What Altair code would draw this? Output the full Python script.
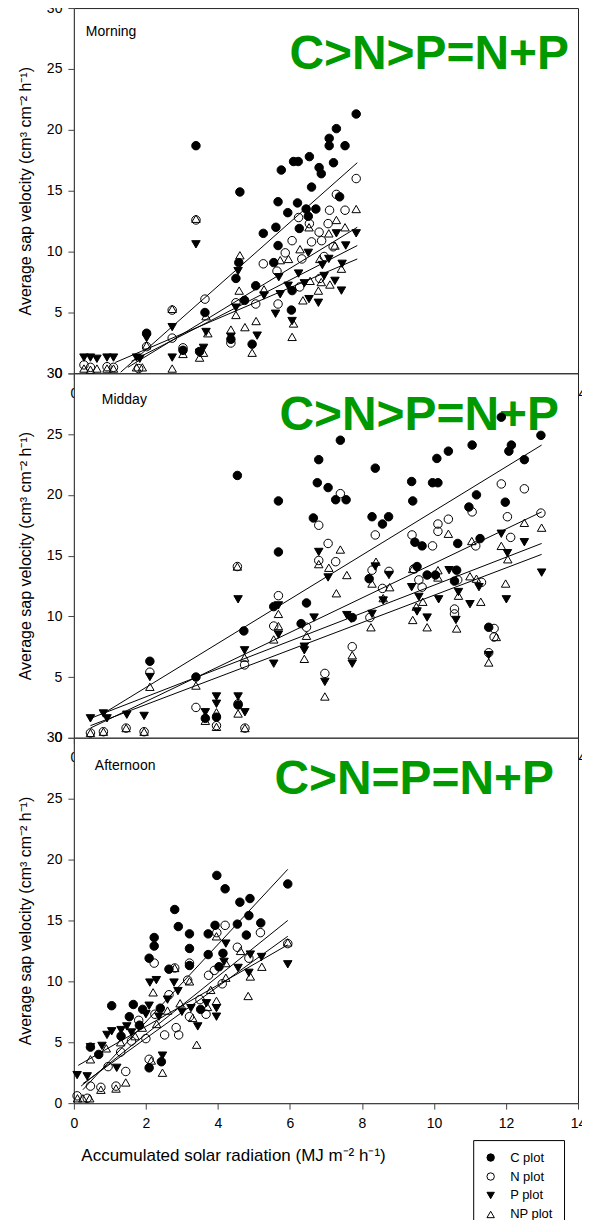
import altair as alt
import pandas as pd

SERIES = ["C plot", "N plot", "P plot", "NP plot"]
SHAPES = ["circle", "circle", "triangle-down", "triangle-up"]
FILLS = ["black", "transparent", "black", "transparent"]

PANEL_NAMES = ["Morning", "Midday", "Afternoon"]
PANEL_TAGS = ["C>N>P=N+P", "C>N>P=N+P", "C>N=P=N+P"]

Y_TITLE = "Average sap velocity (cm³ cm⁻² h⁻¹)"
X_TITLE = "Accumulated solar radiation (MJ m⁻² h⁻¹)"
X_TICKS = [0, 2, 4, 6, 8, 10, 12, 14]
Y_TICKS = [0, 5, 10, 15, 20, 25, 30]

# ---------------- Morning ----------------
m_c_x = [2.02, 3.03, 3.39, 3.49, 3.64, 4.36, 4.50, 4.58, 4.61, 4.74, 4.95, 5.05, 5.26, 5.55, 5.61,
         5.67, 5.67, 5.76, 5.94, 6.04, 6.06, 6.10, 6.21, 6.23, 6.26, 6.45, 6.51, 6.54, 6.60, 6.72,
         6.81, 6.87, 7.09, 7.09, 7.21, 7.29, 7.38, 7.53, 7.84]
m_c_y = [3.3, 1.9, 18.7, 1.8, 5.0, 2.8, 7.8, 9.1, 14.9, 6.0, 2.4, 7.2, 11.5, 9.1, 12.0,
         10.5, 14.1, 16.7, 13.2, 5.2, 6.8, 17.4, 14.0, 17.4, 11.9, 13.5, 12.9, 17.8, 15.3, 13.5,
         16.9, 16.4, 19.3, 18.7, 17.3, 20.1, 14.5, 18.7, 21.3]
m_n_x = [0.28, 0.46, 0.92, 1.10, 1.80, 2.02, 2.73, 2.73, 3.03, 3.39, 3.64, 4.36, 4.50, 5.05, 5.26,
         5.64, 5.67, 5.87, 6.06, 6.24, 6.27, 6.33, 6.54, 6.60, 6.81, 6.83, 6.88, 6.95, 7.06, 7.10,
         7.20, 7.29, 7.53, 7.84]
m_n_y = [0.7, 0.5, 0.55, 0.5, 0.4, 2.2, 5.2, 2.9, 2.1, 12.6, 6.1, 2.5, 5.8, 5.7, 9.0,
         8.4, 5.7, 9.9, 10.9, 12.8, 7.1, 9.4, 12.3, 10.8, 11.6, 7.8, 10.9, 9.6, 12.3, 13.4,
         10.4, 14.7, 13.4, 16.0]
m_p_x = [0.28, 0.46, 0.64, 0.92, 1.10, 1.74, 1.83, 2.02, 2.73, 2.73, 3.39, 3.49, 3.60, 3.67, 4.36,
         4.50, 4.56, 5.09, 5.28, 5.60, 5.69, 5.73, 5.95, 6.06, 6.24, 6.40, 6.51, 6.53, 6.79, 6.90,
         6.95, 7.08, 7.25, 7.29, 7.43, 7.45, 7.55, 7.84]
m_p_y = [1.3, 1.3, 1.2, 1.3, 1.3, 1.3, 1.2, 2.9, 3.8, 1.3, 10.6, 1.7, 2.1, 3.4, 3.0,
         5.4, 8.4, 3.1, 6.4, 4.9, 7.9, 6.5, 7.2, 4.3, 8.2, 7.4, 9.9, 6.1, 5.8, 8.9,
         8.0, 9.4, 7.6, 11.5, 6.8, 9.0, 10.5, 11.5]
m_np_x = [0.28, 0.46, 0.64, 0.92, 1.10, 1.74, 1.90, 2.02, 2.73, 2.73, 3.03, 3.39, 3.49, 3.60, 3.67,
          3.72, 4.36, 4.50, 4.59, 4.61, 4.75, 4.95, 5.06, 5.28, 5.73, 5.96, 6.06, 6.10, 6.28, 6.36,
          6.53, 6.56, 6.79, 6.83, 6.87, 7.08, 7.11, 7.25, 7.29, 7.43, 7.53, 7.84]
m_np_y = [0.4, 0.3, 0.4, 0.4, 0.4, 0.5, 0.5, 2.3, 5.3, 0.4, 1.6, 12.7, 1.3, 1.7, 4.7,
          3.3, 3.6, 4.8, 6.8, 9.7, 3.8, 1.7, 4.3, 6.9, 9.3, 9.4, 3.0, 4.1, 10.2, 6.0,
          12.0, 7.6, 6.8, 9.4, 7.5, 11.5, 7.3, 10.5, 12.6, 8.6, 12.0, 13.5]
m_fit_x0 = [1.30, 1.50, 1.60, 1.15]
m_fit_y0 = [0.1, 0.5, 1.0, 0.9]
m_fit_x1 = [7.87, 7.87, 7.87, 7.87]
m_fit_y1 = [17.3, 12.0, 10.5, 9.4]

# ---------------- Midday ----------------
d_c_x = [2.11, 3.39, 3.65, 3.96, 4.54, 4.56, 4.72, 5.55, 5.68, 5.68, 6.31, 6.46, 6.65, 6.76, 6.80,
         7.06, 7.27, 7.40, 7.56, 7.73, 8.20, 8.28, 8.37, 8.57, 8.74, 9.38, 9.41, 9.47, 9.53, 9.67,
         9.81, 9.96, 10.04, 10.08, 10.11, 10.40, 10.57, 10.63, 10.66, 10.97, 11.06, 11.18, 11.28,
         11.52, 11.87, 11.98, 12.08, 12.15, 12.51, 12.97]
d_c_y = [6.3, 5.0, 1.6, 1.7, 21.6, 2.7, 8.8, 10.8, 19.5, 15.3, 9.4, 11.1, 18.1, 21.0, 22.9,
         20.6, 19.6, 24.5, 19.6, 9.9, 13.1, 18.2, 22.2, 17.6, 18.2, 21.1, 19.5, 16.1, 14.1, 15.8,
         13.4, 21.0, 13.4, 23.0, 21.0, 23.6, 12.9, 13.8, 16.0, 19.0, 24.1, 20.0, 16.4,
         9.1, 26.4, 19.4, 23.6, 24.1, 22.9, 24.9]
d_n_x = [0.46, 0.82, 1.45, 1.95, 2.11, 3.39, 3.96, 4.54, 4.56, 4.74, 4.75, 5.55, 5.68, 6.46, 6.80,
         6.80, 6.97, 7.06, 7.27, 7.40, 7.73, 8.22, 8.28, 8.37, 8.57, 8.75, 9.39, 9.44, 9.58, 9.67,
         9.96, 10.11, 10.11, 10.40, 10.57, 10.57, 10.66, 11.06, 11.16, 11.32, 11.52, 11.67, 11.67,
         11.87, 12.04, 12.13, 12.51, 12.97]
d_n_y = [0.4, 0.5, 0.8, 0.5, 5.4, 2.5, 1.0, 14.1, 2.8, 6.0, 0.8, 9.2, 11.7, 9.1, 17.5,
         14.6, 5.3, 16.0, 14.5, 20.1, 7.5, 9.9, 13.8, 16.7, 12.3, 13.7, 16.7, 13.9, 13.0, 12.4,
         15.8, 17.6, 17.0, 18.0, 10.6, 10.2, 13.0, 18.6, 15.8, 12.8, 7.0, 9.0, 8.3,
         20.9, 18.2, 16.5, 20.5, 18.5]
d_p_x = [0.46, 0.82, 0.92, 1.47, 1.95, 2.11, 3.65, 3.96, 3.96, 4.56, 4.56, 4.74, 4.75, 5.55, 5.68,
         5.68, 6.40, 6.40, 6.67, 6.80, 6.97, 7.06, 7.58, 7.70, 7.73, 8.28, 8.37, 8.59, 8.75, 9.38,
         9.53, 9.58, 9.81, 10.13, 10.42, 10.61, 10.68, 11.00, 11.25, 11.52, 11.87, 12.01, 12.04,
         12.51, 12.99]
d_p_y = [1.6, 2.0, 1.6, 1.9, 1.8, 5.0, 2.1, 3.4, 2.8, 11.4, 3.4, 7.2, 2.1, 6.1, 10.9,
         8.5, 7.5, 7.2, 9.9, 15.3, 4.6, 13.2, 10.1, 9.8, 6.1, 10.2, 14.1, 11.3, 13.4, 12.4,
         10.4, 11.6, 9.9, 11.4, 13.8, 9.7, 12.0, 11.0, 12.4, 6.8, 16.8, 11.4, 15.2,
         16.1, 13.6]
d_np_x = [0.46, 0.82, 1.45, 1.95, 2.11, 3.39, 3.65, 3.96, 3.96, 4.54, 4.56, 4.74, 4.75, 5.55, 5.68,
          5.68, 6.40, 6.46, 6.80, 6.97, 7.08, 7.29, 7.40, 7.58, 7.73, 8.25, 8.28, 8.39, 8.59, 8.77,
          9.41, 9.41, 9.51, 9.69, 9.81, 10.11, 10.11, 10.40, 10.63, 10.68, 11.00, 11.05, 11.18,
          11.30, 11.52, 11.73, 11.87, 11.99, 12.05, 12.51, 12.99]
d_np_y = [0.4, 0.5, 0.8, 0.5, 4.2, 4.3, 1.4, 2.1, 0.9, 14.1, 2.0, 6.6, 0.8, 8.1, 10.2,
          9.2, 6.5, 8.4, 14.3, 3.4, 14.0, 11.9, 15.5, 13.4, 6.8, 9.1, 12.7, 14.5, 11.5, 12.4,
          13.9, 9.7, 10.8, 11.2, 9.1, 13.8, 13.2, 16.8, 9.0, 11.7, 13.3, 16.2, 13.1,
          11.2, 6.2, 8.3, 15.8, 12.7, 14.7, 17.7, 17.3]
d_fit_x0 = [0.82, 0.46, 0.46, 0.46]
d_fit_y0 = [2.0, 0.8, 1.6, 1.0]
d_fit_x1 = [12.99, 12.99, 12.99, 12.99]
d_fit_y1 = [24.1, 18.6, 16.0, 15.1]

# ---------------- Afternoon ----------------
a_c_x = [0.46, 0.69, 1.05, 1.31, 1.54, 1.65, 1.82, 1.91, 2.09, 2.09, 2.23, 2.23, 2.40, 2.43, 2.64,
         2.80, 2.90, 3.21, 3.21, 3.21, 3.52, 3.73, 3.73, 3.92, 3.97, 4.03, 4.14, 4.20, 4.54, 4.61,
         4.79, 4.86, 4.89, 5.19, 5.94]
a_c_y = [4.6, 4.0, 8.0, 5.5, 7.1, 8.1, 6.4, 7.7, 11.9, 2.9, 13.6, 12.9, 7.8, 3.4, 11.0,
         15.9, 14.5, 13.9, 12.7, 11.3, 7.7, 13.9, 12.2, 14.6, 18.7, 11.2, 12.3, 17.6, 14.7, 16.5,
         13.8, 15.4, 16.8, 14.8, 18.0]
a_n_x = [0.09, 0.37, 0.46, 0.75, 0.95, 1.17, 1.30, 1.44, 1.60, 1.80, 2.00, 2.09, 2.23, 2.25, 2.52,
         2.64, 2.80, 2.84, 2.91, 3.16, 3.21, 3.21, 3.50, 3.67, 3.74, 3.90, 3.97, 4.12, 4.20, 4.54,
         4.86, 5.18, 5.94]
a_n_y = [0.6, 0.4, 1.4, 1.3, 3.0, 1.4, 4.2, 2.6, 5.1, 6.8, 5.3, 3.6, 11.5, 7.3, 5.6,
         8.9, 11.1, 6.2, 5.6, 10.1, 11.5, 7.1, 8.5, 7.3, 10.5, 10.9, 14.0, 9.8, 14.6, 12.8,
         11.9, 14.0, 13.1]
a_p_x = [0.09, 0.37, 0.46, 0.78, 0.92, 1.05, 1.19, 1.31, 1.47, 1.60, 2.00, 2.09, 2.11, 2.29, 2.36,
         2.46, 2.60, 2.78, 2.89, 3.00, 3.25, 3.44, 3.68, 3.96, 3.96, 4.17, 4.22, 4.56, 4.86, 4.90,
         5.21, 5.94]
a_p_y = [2.3, 2.2, 4.6, 4.7, 5.6, 5.9, 2.9, 6.0, 6.3, 5.8, 7.3, 8.0, 9.9, 10.1, 7.1,
         3.9, 8.5, 9.9, 9.2, 7.5, 7.8, 6.3, 8.2, 7.8, 7.1, 11.6, 13.1, 11.1, 10.7, 12.2,
         12.0, 11.4]
a_np_x = [0.10, 0.25, 0.44, 0.46, 0.75, 0.90, 1.17, 1.30, 1.44, 1.70, 1.90, 2.15, 2.20, 2.30, 2.46,
          2.60, 2.80, 2.95, 3.21, 3.30, 3.41, 3.71, 3.80, 3.96, 3.96, 4.22, 4.22, 4.63, 4.84, 4.90,
          5.22, 5.94]
a_np_y = [0.4, 0.4, 0.4, 3.6, 1.1, 4.5, 1.2, 5.0, 1.7, 5.5, 6.2, 3.5, 9.1, 6.5, 2.5,
          7.6, 11.1, 8.2, 10.0, 7.0, 4.8, 7.9, 9.3, 13.7, 8.4, 11.5, 10.3, 12.5, 8.8, 10.4,
          11.2, 13.2]
a_fit_x0 = [0.25, 0.20, 0.12, 0.25]
a_fit_y0 = [1.1, 1.4, 3.1, 1.6]
a_fit_x1 = [5.94, 5.94, 5.94, 5.94]
a_fit_y1 = [19.2, 15.0, 13.0, 13.7]

FONT = "Liberation Sans"
GREEN = "#009900"


def points_frame(xs_list, ys_list):
    rows = []
    for s, xs, ys in zip(SERIES, xs_list, ys_list):
        for xv, yv in zip(xs, ys):
            rows.append({"x": xv, "y": yv, "series": s})
    return pd.DataFrame(rows)


def fit_frame(x0, y0, x1, y1):
    rows = []
    for s, a, b, c, d in zip(SERIES, x0, y0, x1, y1):
        rows.append({"x": a, "y": b, "series": s})
        rows.append({"x": c, "y": d, "series": s})
    return pd.DataFrame(rows)


legend = alt.Legend(
    title=None, orient="none", legendX=400, legendY=1134,
    strokeColor="black", fillColor="white", padding=11,
    labelFont=FONT, labelFontSize=13, labelColor="black", labelOffset=13,
    rowPadding=5, symbolSize=55, symbolStrokeColor="black", symbolStrokeWidth=1,
)

PLOT_W = 505


def panel(pts, fits, name, tag, name_xy, tag_xy, height, bottom):
    if bottom:
        xaxis = alt.Axis(values=X_TICKS, title=X_TITLE, labelFlush=False,
                         titleAnchor="start", titleAlign="left", titleX=7,
                         titleY=57, titleBaseline="alphabetic", titleFontSize=17)
    else:
        xaxis = alt.Axis(values=X_TICKS, title=None, labelFlush=False)
    x = alt.X("x:Q", scale=alt.Scale(domain=[0, 14], nice=False, zero=False), axis=xaxis)
    y = alt.Y("y:Q", scale=alt.Scale(domain=[0, 30], nice=False),
              axis=alt.Axis(values=Y_TICKS, title=Y_TITLE))

    name_layer = alt.Chart(pd.DataFrame({"t": [name]})).mark_text(
        align="left", baseline="alphabetic", font=FONT, fontSize=14, color="black"
    ).encode(x=alt.value(name_xy[0]), y=alt.value(name_xy[1]), text="t:N")
    tag_layer = alt.Chart(pd.DataFrame({"t": [tag]})).mark_text(
        align="right", baseline="alphabetic", font=FONT, fontSize=48,
        fontWeight="bold", color=GREEN
    ).encode(x=alt.value(tag_xy[0]), y=alt.value(tag_xy[1]), text="t:N")

    pts_layer = alt.Chart(pts).mark_point(
        size=72, strokeWidth=1, opacity=1, fillOpacity=1
    ).encode(
        x=x, y=y,
        shape=alt.Shape("series:N", scale=alt.Scale(domain=SERIES, range=SHAPES), legend=legend),
        fill=alt.Fill("series:N", scale=alt.Scale(domain=SERIES, range=FILLS), legend=legend),
        stroke=alt.Stroke("series:N", scale=alt.Scale(domain=SERIES, range=["black"] * 4), legend=legend),
    )
    fit_layer = alt.Chart(fits).mark_line(color="black", strokeWidth=1, clip=True).encode(
        x=x, y=y, detail="series:N"
    )
    return alt.layer(tag_layer, name_layer, pts_layer, fit_layer).properties(width=PLOT_W, height=height)


top = panel(points_frame([m_c_x, m_n_x, m_p_x, m_np_x], [m_c_y, m_n_y, m_p_y, m_np_y]),
            fit_frame(m_fit_x0, m_fit_y0, m_fit_x1, m_fit_y1),
            PANEL_NAMES[0], PANEL_TAGS[0], (12, 28), (496, 61), 366, False)
mid = panel(points_frame([d_c_x, d_n_x, d_p_x, d_np_x], [d_c_y, d_n_y, d_p_y, d_np_y]),
            fit_frame(d_fit_x0, d_fit_y0, d_fit_x1, d_fit_y1),
            PANEL_NAMES[1], PANEL_TAGS[1], (28, 31), (486, 57), 365, False)
bot = panel(points_frame([a_c_x, a_n_x, a_p_x, a_np_x], [a_c_y, a_n_y, a_p_y, a_np_y]),
            fit_frame(a_fit_x0, a_fit_y0, a_fit_x1, a_fit_y1),
            PANEL_NAMES[2], PANEL_TAGS[2], (21, 32), (481, 56), 366, True)

chart = alt.vconcat(top, mid, bot, spacing=0, bounds="flush").properties(
    padding={"left": 8, "top": -9, "right": -5, "bottom": -15},
).configure_view(
    stroke="#222", strokeWidth=1, fill="white"
).configure_axis(
    labelFont=FONT, titleFont=FONT, labelFontSize=14, titleFontSize=16,
    titleFontWeight="normal", labelColor="black", titleColor="black",
    domainColor="#444", tickColor="#444", tickSize=6, grid=False,
    labelPadding=6, titlePadding=13
).configure_axisX(
    labelPadding=7
)

chart.save("out.html", embed_options={"renderer": "svg", "actions": False})
